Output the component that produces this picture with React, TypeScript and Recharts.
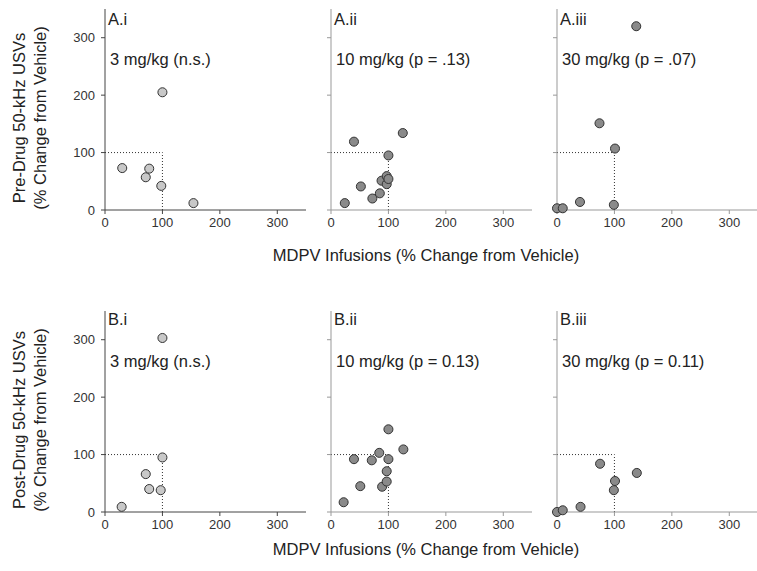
import { ScatterChart, Scatter, XAxis, YAxis, ReferenceLine } from 'recharts'

type Pt = { x: number; y: number }

// axes shared by all six panels
const infusionTicks = [0, 100, 200, 300]
const usvTicks = [0, 100, 200, 300]
const axisMax = 350
const vehicleLevel = 100

// row A: pre-drug USVs vs MDPV infusions
const preLow: Pt[] = [
  { x: 30, y: 73 }, { x: 71, y: 57 }, { x: 77, y: 72 },
  { x: 98, y: 42 }, { x: 100, y: 205 }, { x: 154, y: 12 },
]
const preMid: Pt[] = [
  { x: 24, y: 12 }, { x: 40, y: 119 }, { x: 52, y: 41 }, { x: 72, y: 20 },
  { x: 85, y: 29 }, { x: 88, y: 51 }, { x: 97, y: 45 }, { x: 97, y: 59 },
  { x: 100, y: 54 }, { x: 100, y: 95 }, { x: 125, y: 134 },
]
const preHigh: Pt[] = [
  { x: 0, y: 3 }, { x: 10, y: 3 }, { x: 40, y: 14 }, { x: 74, y: 151 },
  { x: 99, y: 9 }, { x: 101, y: 107 }, { x: 138, y: 320 },
]

// row B: post-drug USVs vs MDPV infusions
const postLow: Pt[] = [
  { x: 29, y: 9 }, { x: 71, y: 66 }, { x: 77, y: 40 },
  { x: 97, y: 38 }, { x: 100, y: 95 }, { x: 100, y: 303 },
]
const postMid: Pt[] = [
  { x: 22, y: 17 }, { x: 40, y: 92 }, { x: 51, y: 45 }, { x: 71, y: 90 },
  { x: 84, y: 103 }, { x: 89, y: 44 }, { x: 97, y: 53 }, { x: 97, y: 71 },
  { x: 100, y: 92 }, { x: 100, y: 144 }, { x: 126, y: 109 },
]
const postHigh: Pt[] = [
  { x: 0, y: 0 }, { x: 10, y: 3 }, { x: 41, y: 9 }, { x: 75, y: 84 },
  { x: 99, y: 38 }, { x: 101, y: 54 }, { x: 139, y: 68 },
]

const panelLabels = ['A.i', 'A.ii', 'A.iii', 'B.i', 'B.ii', 'B.iii']
const doseLabels = [
  '3 mg/kg (n.s.)', '10 mg/kg (p = .13)', '30 mg/kg (p = .07)',
  '3 mg/kg (n.s.)', '10 mg/kg (p = 0.13)', '30 mg/kg (p = 0.11)',
]
const rowTitles = [
  ['Pre-Drug 50-kHz USVs', '(% Change from Vehicle)'],
  ['Post-Drug 50-kHz USVs', '(% Change from Vehicle)'],
]
const xTitle = 'MDPV Infusions (% Change from Vehicle)'

const font = '"Liberation Sans", Arial, sans-serif'
const colX = [105, 331, 557]
const rowTop = [9, 311]
const plot = 201
const yW = 40
const mTop = 10
const mRight = 10
const xH = 30

function Panel({ data, col, row, fill }: { data: Pt[]; col: number; row: number; fill: string }) {
  const first = col === 0
  const axisColor = first ? '#444' : '#999'
  const tick = { fontSize: 13, fill: '#333', fontFamily: font }
  return (
    <div style={{ position: 'absolute', left: colX[col] - yW, top: rowTop[row] - mTop }}>
      <ScatterChart
        width={yW + plot + mRight}
        height={mTop + plot + xH}
        margin={{ top: mTop, right: mRight, bottom: 0, left: 0 }}
      >
        <XAxis
          type="number" dataKey="x" domain={[0, axisMax]} ticks={infusionTicks}
          height={xH} tick={tick} tickSize={4} tickMargin={4}
          stroke={axisColor} tickLine={{ stroke: axisColor }}
        />
        <YAxis
          type="number" dataKey="y" domain={[0, axisMax]} ticks={usvTicks}
          width={yW} tick={tick} tickSize={4} tickMargin={6}
          stroke={axisColor} tickLine={{ stroke: axisColor }}
          tickFormatter={first ? undefined : () => ''}
        />
        <ReferenceLine
          segment={[{ x: 0, y: vehicleLevel }, { x: vehicleLevel, y: vehicleLevel }]}
          stroke="#333" strokeDasharray="1 2"
        />
        <ReferenceLine
          segment={[{ x: vehicleLevel, y: 0 }, { x: vehicleLevel, y: vehicleLevel }]}
          stroke="#333" strokeDasharray="1 2"
        />
        <Scatter data={data} fill={fill} stroke="#333" strokeWidth={1} isAnimationActive={false} />
      </ScatterChart>
    </div>
  )
}

export default function App() {
  const rows = [[preLow, preMid, preHigh], [postLow, postMid, postHigh]]
  const fills = ['#c8c8c8', '#8a8a8a', '#8a8a8a']
  return (
    <div style={{ position: 'absolute', left: 0, top: 0, width: 757, height: 571, overflow: 'hidden', background: '#fff', fontFamily: font }}>
      {rows.map((r, ri) =>
        r.map((d, ci) => <Panel key={`${ri}-${ci}`} data={d} col={ci} row={ri} fill={fills[ci]} />)
      )}
      <svg width={757} height={571} style={{ position: 'absolute', left: 0, top: 0, pointerEvents: 'none' }}>
        <g fontFamily={font} fill="#222">
          {[0, 1].map((ri) =>
            [0, 1, 2].map((ci) => (
              <g key={`${ri}-${ci}`}>
                <text x={colX[ci] + 3} y={ri === 0 ? 25 : 325} fontSize={16.5}>{panelLabels[ri * 3 + ci]}</text>
                <text x={colX[ci] + 5} y={rowTop[ri] + 56} fontSize={16.5}>{doseLabels[ri * 3 + ci]}</text>
              </g>
            ))
          )}
          {rowTitles.map((lines, ri) => {
            const cy = ri === 0 ? 118 : 420
            return (
              <g key={ri}>
                <text x={25} y={cy} fontSize={16.5} textAnchor="middle" transform={`rotate(-90 25 ${cy})`}>{lines[0]}</text>
                <text x={46} y={cy} fontSize={16.5} textAnchor="middle" transform={`rotate(-90 46 ${cy})`}>{lines[1]}</text>
              </g>
            )
          })}
          <text x={426} y={260.5} fontSize={16.5} textAnchor="middle">{xTitle}</text>
          <text x={426} y={555} fontSize={16.5} textAnchor="middle">{xTitle}</text>
        </g>
      </svg>
    </div>
  )
}
